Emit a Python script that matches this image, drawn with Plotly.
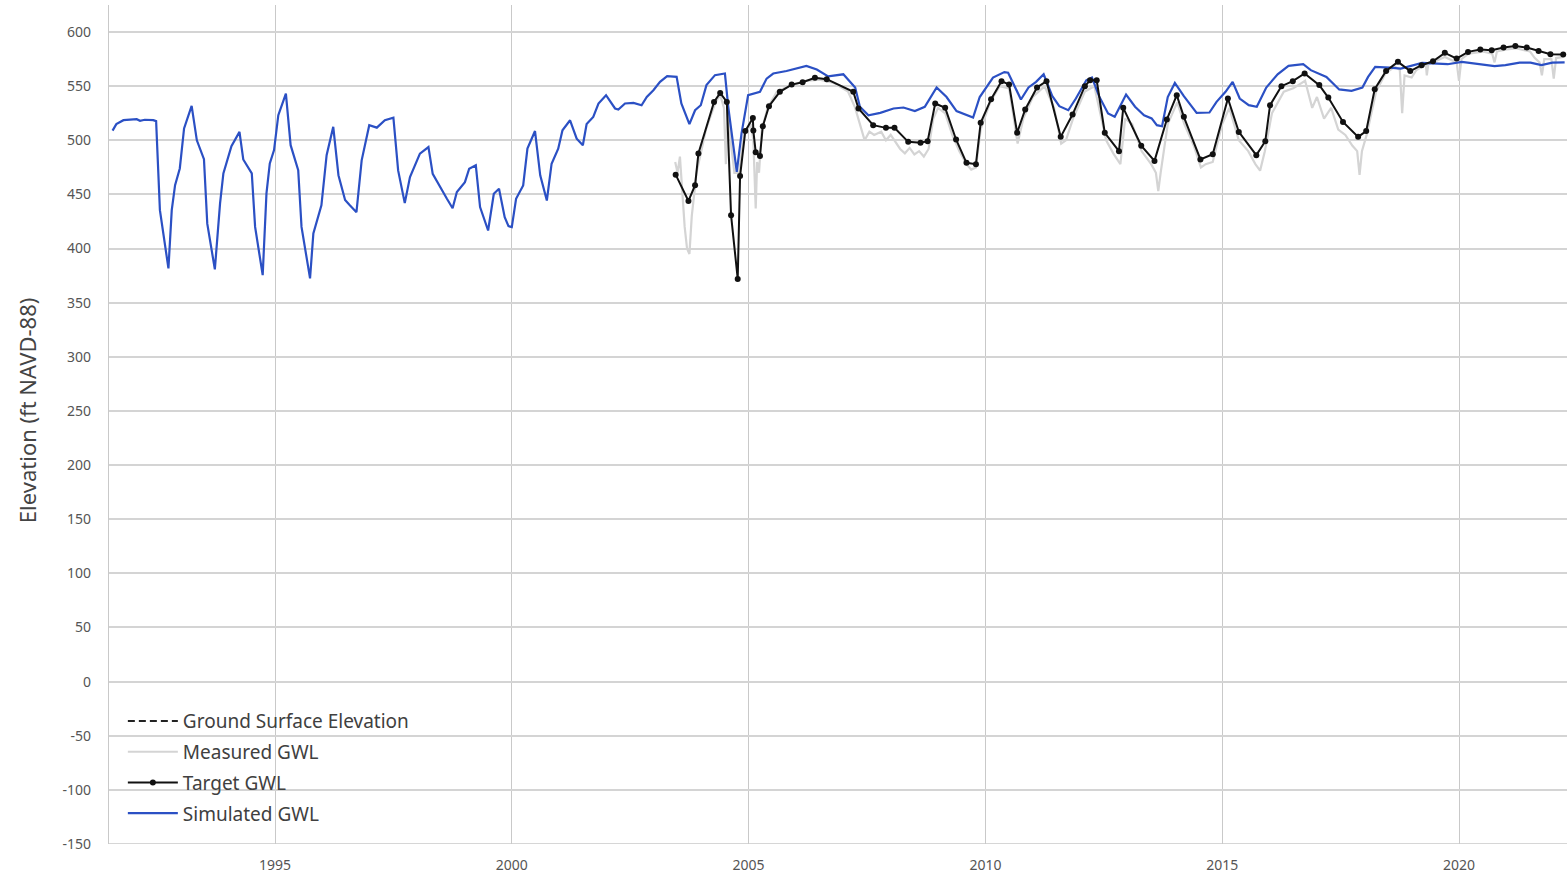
import plotly.graph_objects as go

# ---------------- data ----------------
sim_year = [1991.57, 1991.65, 1991.80, 1991.95, 1992.08, 1992.15, 1992.25, 1992.43, 1992.49, 1992.57,
            1992.75, 1992.82, 1992.89, 1992.99, 1993.08, 1993.24, 1993.35, 1993.50, 1993.57, 1993.73,
            1993.84, 1993.91, 1994.08, 1994.25, 1994.33, 1994.51, 1994.58, 1994.74, 1994.82, 1994.89,
            1994.98, 1995.07, 1995.23, 1995.33, 1995.49, 1995.56, 1995.74, 1995.81, 1995.98, 1996.09,
            1996.23, 1996.34, 1996.48, 1996.58, 1996.72, 1996.83, 1996.99, 1997.15, 1997.32, 1997.50,
            1997.60, 1997.74, 1997.85, 1998.06, 1998.24, 1998.33, 1998.48, 1998.63, 1998.75, 1998.84,
            1999.01, 1999.10, 1999.24, 1999.33, 1999.50, 1999.62, 1999.73, 1999.85, 1999.93, 2000.00,
            2000.09, 2000.24, 2000.33, 2000.49, 2000.60, 2000.74, 2000.84, 2000.98, 2001.07, 2001.23,
            2001.37, 2001.50, 2001.58, 2001.72, 2001.83, 2001.99, 2002.18, 2002.25, 2002.39, 2002.57,
            2002.74, 2002.85, 2002.99, 2003.13, 2003.28, 2003.48, 2003.58, 2003.75, 2003.87, 2003.99,
            2004.11, 2004.29, 2004.50, 2004.57, 2004.75, 2004.85, 2004.99, 2005.24, 2005.38, 2005.52,
            2005.80, 2005.98, 2006.22, 2006.44, 2006.68, 2007.00, 2007.25, 2007.35, 2007.53, 2007.78,
            2008.06, 2008.27, 2008.51, 2008.72, 2008.97, 2009.18, 2009.39, 2009.74, 2009.88, 2010.16,
            2010.40, 2010.48, 2010.75, 2010.91, 2011.07, 2011.23, 2011.41, 2011.56, 2011.75, 2011.91,
            2012.13, 2012.25, 2012.40, 2012.59, 2012.73, 2012.97, 2013.16, 2013.35, 2013.51, 2013.62,
            2013.73, 2013.85, 2014.00, 2014.19, 2014.46, 2014.73, 2014.88, 2015.07, 2015.22, 2015.37,
            2015.56, 2015.73, 2015.93, 2016.17, 2016.40, 2016.71, 2016.87, 2017.20, 2017.47, 2017.73,
            2017.96, 2018.08, 2018.23, 2018.54, 2018.77, 2019.22, 2019.76, 2020.06, 2020.45, 2020.75,
            2020.98, 2021.28, 2021.51, 2021.74, 2021.97, 2022.23]
sim_gwl = [509, 515, 518.6, 519, 519.5, 518, 519, 518.6, 517.7, 435.5,
           381.7, 435.5, 458.6, 474, 511, 531.8, 500, 482.6, 423, 380.8,
           441.7, 469.4, 494.6, 507.8, 482.3, 469.4, 420, 375.5, 451, 478.6,
           491, 523.2, 543.2, 495.5, 472.5, 420, 372.5, 414, 440, 486.3,
           512.5, 467.8, 444.8, 440, 433.6, 481.5, 513.9, 511.7, 518.5, 521,
           472.2, 442, 466, 487.7, 493.8, 469, 456.8, 446, 437.3, 452.2,
           461.4, 473.8, 476.9, 438.3, 416.7, 450.6, 455.2, 429, 420.7, 419.8,
           446, 458.3, 492.3, 508.6, 467.6, 444.4, 478.4, 492.3, 509.3, 518.5,
           501.5, 495.4, 515, 521.6, 534, 541.7, 529.4, 528.4, 534, 534.6,
           532.4, 540, 546.3, 554, 559.2, 558.6, 534, 514.9, 527.8, 532.4,
           551, 560.2, 561.7, 530.9, 470.8, 506.2, 541.7, 544.8, 557, 561.7,
           564, 566.3, 568.8, 565.4, 559, 561, 548.8, 531, 523.2, 525.4,
           529.4, 530.3, 527, 531, 548.8, 540, 527, 521, 540, 558,
           563, 562.5, 537.7, 548.8, 554, 561, 541, 531.5, 527.8, 538.6,
           555.5, 558, 540.8, 524.8, 521.7, 542.3, 531, 523.2, 520.2, 514,
           513, 540, 553, 540.8, 525.4, 525.7, 535.5, 544.8, 554, 538.6,
           532.5, 531, 548.8, 561, 568.8, 570.3, 564.8, 558.6, 547, 545.7,
           548.8, 558.6, 567.8, 567.2, 566.3, 571.5, 570.3, 572.5, 570.3, 568.5,
           569.4, 571.8, 571.8, 569.4, 571.8, 572]

target_year = [2003.46, 2003.73, 2003.87, 2003.94, 2004.27, 2004.40, 2004.54, 2004.63, 2004.77, 2004.82,
               2004.93, 2005.09, 2005.10, 2005.15, 2005.24, 2005.30, 2005.43, 2005.66, 2005.91, 2006.14,
               2006.40, 2006.65, 2007.21, 2007.32, 2007.63, 2007.90, 2008.08, 2008.37, 2008.63, 2008.78,
               2008.94, 2009.15, 2009.38, 2009.60, 2009.80, 2009.90, 2010.12, 2010.34, 2010.50, 2010.67,
               2010.84, 2011.09, 2011.29, 2011.59, 2011.84, 2012.10, 2012.21, 2012.35, 2012.52, 2012.82,
               2012.91, 2013.29, 2013.57, 2013.83, 2014.04, 2014.19, 2014.54, 2014.80, 2015.12, 2015.35,
               2015.72, 2015.91, 2016.01, 2016.25, 2016.49, 2016.74, 2017.05, 2017.24, 2017.55, 2017.87,
               2018.04, 2018.22, 2018.46, 2018.71, 2018.97, 2019.21, 2019.45, 2019.70, 2019.95, 2020.19,
               2020.45, 2020.69, 2020.94, 2021.19, 2021.43, 2021.68, 2021.93, 2022.20]
target_gwl = [468.3, 444, 458.5, 487.8, 535.5, 543.8, 535.5, 430.7, 372, 467,
              508.5, 520.7, 509, 489, 485.5, 513, 531.5, 544.8, 551.5, 553.7,
              557.7, 556.5, 544.8, 529.4, 514, 511.5, 511.5, 498.6, 497.7, 499.2,
              534, 530, 500.8, 479.2, 478, 516.2, 538, 554.6, 551.5, 507,
              528.5, 548.8, 554.6, 503.2, 523.8, 550, 555.5, 555.5, 507, 490,
              530, 495, 481, 519.2, 541.7, 521.7, 482.3, 487.2, 538.6, 507.8,
              486.3, 499.2, 532.5, 550, 554.6, 561.7, 551, 539.5, 517, 503.2,
              508.5, 547.2, 564, 572.5, 564, 569.4, 573, 580.8, 575.5, 581.7,
              583.8, 583.2, 585.7, 587.2, 585.7, 582.6, 579.5, 579.2]

meas_year = [2003.45, 2003.50, 2003.55, 2003.60, 2003.65, 2003.70, 2003.75, 2003.80, 2003.85, 2003.90,
             2004.00, 2004.10, 2004.30, 2004.40, 2004.48, 2004.52, 2004.56, 2004.62, 2004.70, 2004.80,
             2004.90, 2005.00, 2005.05, 2005.10, 2005.12, 2005.15, 2005.18, 2005.22, 2005.28, 2005.40,
             2005.60, 2005.90, 2006.20, 2006.50, 2006.80, 2007.10, 2007.25, 2007.35, 2007.45, 2007.55,
             2007.65, 2007.80, 2007.90, 2008.00, 2008.10, 2008.20, 2008.30, 2008.40, 2008.50, 2008.60,
             2008.70, 2008.80, 2008.90, 2009.00, 2009.15, 2009.30, 2009.45, 2009.60, 2009.70, 2009.80,
             2009.90, 2010.10, 2010.30, 2010.50, 2010.60, 2010.68, 2010.80, 2011.00, 2011.25, 2011.45,
             2011.60, 2011.70, 2011.85, 2012.10, 2012.30, 2012.45, 2012.55, 2012.70, 2012.85, 2012.95,
             2013.10, 2013.30, 2013.50, 2013.60, 2013.65, 2013.70, 2013.85, 2014.05, 2014.20, 2014.40,
             2014.55, 2014.65, 2014.80, 2015.00, 2015.15, 2015.35, 2015.55, 2015.70, 2015.80, 2015.90,
             2016.05, 2016.30, 2016.50, 2016.75, 2016.90, 2017.00, 2017.15, 2017.30, 2017.45, 2017.60,
             2017.75, 2017.85, 2017.90, 2017.95, 2018.05, 2018.25, 2018.45, 2018.65, 2018.75, 2018.80,
             2018.85, 2019.00, 2019.10, 2019.30, 2019.32, 2019.35, 2019.50, 2019.70, 2019.95, 2020.00,
             2020.05, 2020.20, 2020.50, 2020.70, 2020.75, 2020.80, 2021.00, 2021.20, 2021.50, 2021.60,
             2021.70, 2021.75, 2021.80, 2021.95, 2022.00, 2022.05, 2022.20]
meas_gwl = [480, 470, 485, 455, 420, 400, 395, 430, 450, 470,
            490, 510, 535, 542, 530, 478, 535, 500, 470, 470,
            505, 512, 515, 500, 470, 437, 480, 470, 510, 530,
            545, 551, 555, 556, 553, 545, 530, 515, 500, 508,
            505, 508, 500, 505, 498, 492, 488, 493, 487, 490,
            485, 492, 520, 530, 525, 505, 490, 478, 473, 475,
            510, 535, 550, 548, 520, 497, 520, 540, 550, 530,
            497, 500, 520, 545, 550, 520, 500, 488, 478, 520,
            515, 490, 478, 470, 453, 470, 515, 535, 515, 495,
            475, 478, 480, 515, 530, 500, 490, 478, 472, 490,
            525, 545, 548, 555, 530, 540, 520, 530, 510, 505,
            495, 490, 468, 490, 505, 545, 562, 568, 565, 525,
            560, 558, 565, 570, 560, 570, 573, 577, 572, 555,
            575, 580, 582, 580, 572, 582, 584, 585, 582, 576,
            572, 560, 575, 575, 557, 576, 577]

# ground surface lies above the visible range in the reference; only its legend entry shows
ground_year = [None]
ground_elev = [None]

year_ticks = [1995, 2000, 2005, 2010, 2015, 2020]
elev_ticks = list(range(-150, 601, 50))
elev_labels = [str(v) for v in elev_ticks]   # plain hyphen minus, as in the reference

FONT = "Noto Sans"

fig = go.Figure()
fig.add_trace(go.Scatter(x=ground_year, y=ground_elev, mode="lines", name="Ground Surface Elevation",
                         line=dict(color="#222222", width=2, dash="7px,4px"),
                         legendgroup="g1", legendrank=1, showlegend=True))
fig.add_trace(go.Scatter(x=meas_year, y=meas_gwl, mode="lines", name="Measured GWL",
                         line=dict(color="#d4d4d4", width=2.2), legendgroup="g2", legendrank=2))
fig.add_trace(go.Scatter(x=sim_year, y=sim_gwl, mode="lines", name="Simulated GWL",
                         line=dict(color="#2b50c4", width=2.2), legendgroup="g4", legendrank=4))
fig.add_trace(go.Scatter(x=target_year, y=target_gwl, mode="lines+markers", name="Target GWL",
                         line=dict(color="#111111", width=2),
                         marker=dict(color="#111111", size=6), legendgroup="g3", legendrank=3))

fig.update_layout(
    width=1567, height=877,
    margin=dict(l=109, r=0, t=5, b=33),
    paper_bgcolor="white", plot_bgcolor="white",
    font=dict(family=FONT, color="#555555", size=14),
    showlegend=True,
    legend=dict(x=0.0095, y=0.169, xanchor="left", yanchor="top",
                bgcolor="rgba(0,0,0,0)", font=dict(size=19, color="#404040", family=FONT),
                tracegroupgap=3, traceorder="grouped", itemwidth=50),
    xaxis=dict(range=[1991.495, 2022.28], tickvals=year_ticks, ticktext=[str(y) for y in year_ticks],
               showgrid=True, gridcolor="#c9c9c9", gridwidth=1.2, zeroline=False,
               showline=False, ticks="", ticklabelstandoff=11,
               tickfont=dict(size=14, color="#555555")),
    yaxis=dict(range=[-150, 625], tickvals=elev_ticks, ticktext=elev_labels,
               showgrid=True, gridcolor="#d4d4d4", gridwidth=1.5,
               zeroline=False, showline=True, linecolor="#c9c9c9", linewidth=1.2, ticks="",
               ticklabelstandoff=14, tickfont=dict(size=14, color="#555555")),
    annotations=[dict(text="Elevation (ft NAVD-88)", xref="paper", yref="paper",
                      x=-0.0562, y=0.516, xanchor="center", yanchor="middle", textangle=-90,
                      showarrow=False, font=dict(size=22, color="#444444", family=FONT))],
)
fig.add_hline(y=-150, line=dict(color="#c9c9c9", width=1.5), layer="below")

fig.write_html("out.html")
